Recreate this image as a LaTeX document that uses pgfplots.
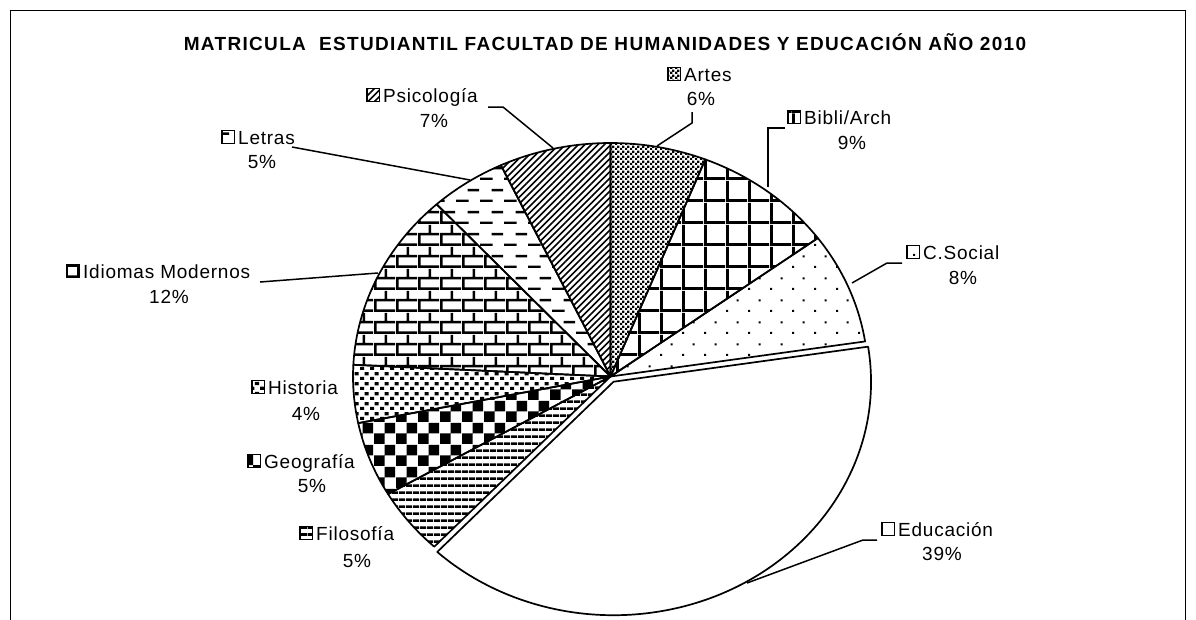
\documentclass[border=0pt]{standalone}
\usepackage{pgfplots}
\pgfplotsset{compat=1.18}
\usepackage{pgfplotstable}
\usepackage{fontspec}
\setmainfont{Liberation Sans}[LetterSpace=4]
\newfontfamily\titlefont{Liberation Sans}[LetterSpace=7]
\usetikzlibrary{patterns}

% fill patterns of the slices (1pt = 1px of the reference)
\pgfdeclarepatternformonly{artes}{\pgfqpoint{0pt}{0pt}}{\pgfqpoint{5pt}{5pt}}{\pgfqpoint{5pt}{5pt}}{%
  \pgfpathrectangle{\pgfqpoint{0pt}{0pt}}{\pgfqpoint{2.6pt}{2.6pt}}%
  \pgfpathrectangle{\pgfqpoint{2.5pt}{2.5pt}}{\pgfqpoint{2.6pt}{2.6pt}}%
  \pgfusepath{fill}}
\pgfdeclarepatternformonly{bibli}{\pgfqpoint{0pt}{0pt}}{\pgfqpoint{22pt}{22pt}}{\pgfqpoint{22pt}{22pt}}{%
  \pgfpathrectangle{\pgfqpoint{0pt}{0pt}}{\pgfqpoint{3pt}{22pt}}%
  \pgfpathrectangle{\pgfqpoint{0pt}{0pt}}{\pgfqpoint{22pt}{3pt}}%
  \pgfusepath{fill}}
\pgfdeclarepatternformonly{csocial}{\pgfqpoint{0pt}{0pt}}{\pgfqpoint{22pt}{22pt}}{\pgfqpoint{22pt}{22pt}}{%
  \pgfpathrectangle{\pgfqpoint{0pt}{0pt}}{\pgfqpoint{2.2pt}{2.2pt}}%
  \pgfpathrectangle{\pgfqpoint{11pt}{11pt}}{\pgfqpoint{2.2pt}{2.2pt}}%
  \pgfusepath{fill}}
\pgfdeclarepatternformonly{filo}{\pgfqpoint{0pt}{0pt}}{\pgfqpoint{7pt}{7pt}}{\pgfqpoint{7pt}{7pt}}{%
  \pgfpathrectangle{\pgfqpoint{0pt}{0pt}}{\pgfqpoint{7pt}{3pt}}%
  \pgfusepath{fill}}
\pgfdeclarepatternformonly{geo}{\pgfqpoint{0pt}{0pt}}{\pgfqpoint{22pt}{22pt}}{\pgfqpoint{22pt}{22pt}}{%
  \pgfpathrectangle{\pgfqpoint{0pt}{0pt}}{\pgfqpoint{11pt}{11pt}}%
  \pgfpathrectangle{\pgfqpoint{11pt}{11pt}}{\pgfqpoint{11pt}{11pt}}%
  \pgfusepath{fill}}
\pgfdeclarepatternformonly{hist}{\pgfqpoint{0pt}{0pt}}{\pgfqpoint{10pt}{10pt}}{\pgfqpoint{10pt}{10pt}}{%
  \pgfpathrectangle{\pgfqpoint{0pt}{0pt}}{\pgfqpoint{4.5pt}{3.5pt}}%
  \pgfpathrectangle{\pgfqpoint{5pt}{5pt}}{\pgfqpoint{4.5pt}{3.5pt}}%
  \pgfusepath{fill}}
\pgfdeclarepatternformonly{idiomas}{\pgfqpoint{0pt}{0pt}}{\pgfqpoint{22pt}{22pt}}{\pgfqpoint{22pt}{22pt}}{%
  \pgfpathrectangle{\pgfqpoint{0pt}{0pt}}{\pgfqpoint{22pt}{2.7pt}}%
  \pgfpathrectangle{\pgfqpoint{0pt}{11pt}}{\pgfqpoint{22pt}{2.7pt}}%
  \pgfpathrectangle{\pgfqpoint{0pt}{0pt}}{\pgfqpoint{2.7pt}{11pt}}%
  \pgfpathrectangle{\pgfqpoint{11pt}{11pt}}{\pgfqpoint{2.7pt}{11pt}}%
  \pgfusepath{fill}}
\pgfdeclarepatternformonly{letras}{\pgfqpoint{0pt}{0pt}}{\pgfqpoint{24pt}{22pt}}{\pgfqpoint{24pt}{22pt}}{%
  \pgfpathrectangle{\pgfqpoint{0pt}{0pt}}{\pgfqpoint{13pt}{2.6pt}}%
  \pgfpathrectangle{\pgfqpoint{12pt}{11pt}}{\pgfqpoint{12pt}{2.6pt}}%
  \pgfusepath{fill}}
\pgfdeclarepatternformonly{psico}{\pgfqpoint{-1pt}{-1pt}}{\pgfqpoint{7.5pt}{7.5pt}}{\pgfqpoint{6.5pt}{6.5pt}}{%
  \pgfsetlinewidth{1.7pt}%
  \pgfpathmoveto{\pgfqpoint{0pt}{0pt}}%
  \pgfpathlineto{\pgfqpoint{6.6pt}{6.6pt}}%
  \pgfusepath{stroke}}

\tikzset{
  slice artes/.style={pattern=artes},
  slice bibli/.style={pattern=bibli},
  slice csocial/.style={pattern=csocial},
  slice blank/.style={fill=white},
  slice filo/.style={pattern=filo},
  slice geo/.style={pattern=geo},
  slice hist/.style={pattern=hist},
  slice idiomas/.style={pattern=idiomas},
  slice letras/.style={pattern=letras},
  slice psico/.style={pattern=psico},
}

% share of each programme (%), clockwise from 12 o'clock
\pgfplotstableread{
name value pat explode
Artes 6.0 artes 0
Bibli 8.9 bibli 0
CSocial 7.7 csocial 0
Educacion 39.4 blank 1
Filosofia 4.6 filo 0
Geografia 5.2 geo 0
Historia 4.0 hist 0
Idiomas 12.4 idiomas 0
Letras 4.8 letras 0
Psicologia 7.0 psico 0
}\piedata

% key box, name and percentage of one slice
\newcommand\lab[7]{%
  \draw[slice #3, line width=1.5pt] (axis cs:#1,#2-6.5) rectangle (axis cs:#1+12.5,#2+6.5);
  \node[anchor=base west, inner sep=0pt] at (axis cs:#1+16,#2+7) {#4};
  \node[anchor=base, inner sep=0pt] at (axis cs:#5,#6+7) {#7};
}

\begin{document}
\begin{tikzpicture}
\begin{axis}[
  width=1196pt, height=619pt, scale only axis,
  xmin=0, xmax=1196, ymin=0, ymax=619, y dir=reverse,
  hide axis, clip=false,
  font=\fontsize{19}{23}\selectfont,
]
\pgfplotstablegetrowsof{\piedata}
\pgfmathtruncatemacro\nrows{\pgfplotsretval-1}
\def\cum{0}
\pgfplotsforeachungrouped \i in {0,...,\nrows}{%
  \pgfplotstablegetelem{\i}{value}\of\piedata \let\val\pgfplotsretval
  \pgfplotstablegetelem{\i}{pat}\of\piedata \let\pat\pgfplotsretval
  \pgfplotstablegetelem{\i}{explode}\of\piedata \let\ex\pgfplotsretval
  \pgfmathsetmacro\aA{90-3.6*\cum}
  \pgfmathsetmacro\aB{90-3.6*(\cum+\val)}
  \pgfmathsetmacro\aM{(\aA+\aB)/2}
  \pgfmathsetmacro\cx{610.5+\ex*6.5*cos(\aM)}
  \pgfmathsetmacro\cy{376.5-\ex*5.9*sin(\aM)}
  \edef\doslice{\noexpand\draw[slice \pat, line width=1.7pt, line join=round]
    (axis cs:\cx,\cy) -- ++(\aA:257.5pt and 233.5pt)
    arc[start angle=\aA, end angle=\aB, x radius=257.5pt, y radius=233.5pt] -- cycle;}
  \doslice
  \pgfmathsetmacro\cum{\cum+\val}
}

% leader lines
\draw[line width=1.5pt] (axis cs:692,112) -- (axis cs:692,123) -- (axis cs:657,146);
\draw[line width=1.5pt] (axis cs:785,128) -- (axis cs:768,128) -- (axis cs:768,187);
\draw[line width=1.5pt] (axis cs:902,263) -- (axis cs:887,263) -- (axis cs:852,283);
\draw[line width=1.5pt] (axis cs:877,540) -- (axis cs:863,540) -- (axis cs:747,583);
\draw[line width=1.5pt] (axis cs:292,147) -- (axis cs:470,180);
\draw[line width=1.5pt] (axis cs:260,282) -- (axis cs:378,273);
\draw[line width=1.5pt] (axis cs:488,107) -- (axis cs:503,107) -- (axis cs:553,148);

% labels
\lab{668}{74}{artes}{Artes}{701}{98}{6\%}
\lab{788}{117}{bibli}{Bibli/Arch}{852}{142}{9\%}
\lab{907}{252}{csocial}{C.Social}{963}{277}{8\%}
\lab{882}{529}{blank}{Educación}{942}{553}{39\%}
\lab{300}{533}{filo}{Filosofía}{357}{560}{5\%}
\lab{248}{461}{geo}{Geografía}{312}{485}{5\%}
\lab{252}{387}{hist}{Historia}{306}{413}{4\%}
\lab{67}{271}{idiomas}{Idiomas Modernos}{169}{296}{12\%}
\lab{222}{137}{letras}{Letras}{262}{161}{5\%}
\lab{367}{95}{psico}{Psicología}{434}{120}{7\%}

\node[font=\titlefont\bfseries\fontsize{19}{22}\selectfont, inner sep=0pt]
  at (axis cs:605,42) {MATRICULA\ \ ESTUDIANTIL FACULTAD DE HUMANIDADES Y EDUCACIÓN AÑO 2010};

% chart frame
\draw[line width=1pt] (axis cs:10.5,640) -- (axis cs:10.5,10.5) -- (axis cs:1185.5,10.5) -- (axis cs:1185.5,640);
\end{axis}
\pgfresetboundingbox
\useasboundingbox (0,0) rectangle (1196pt,619pt);
\end{tikzpicture}
\end{document}
